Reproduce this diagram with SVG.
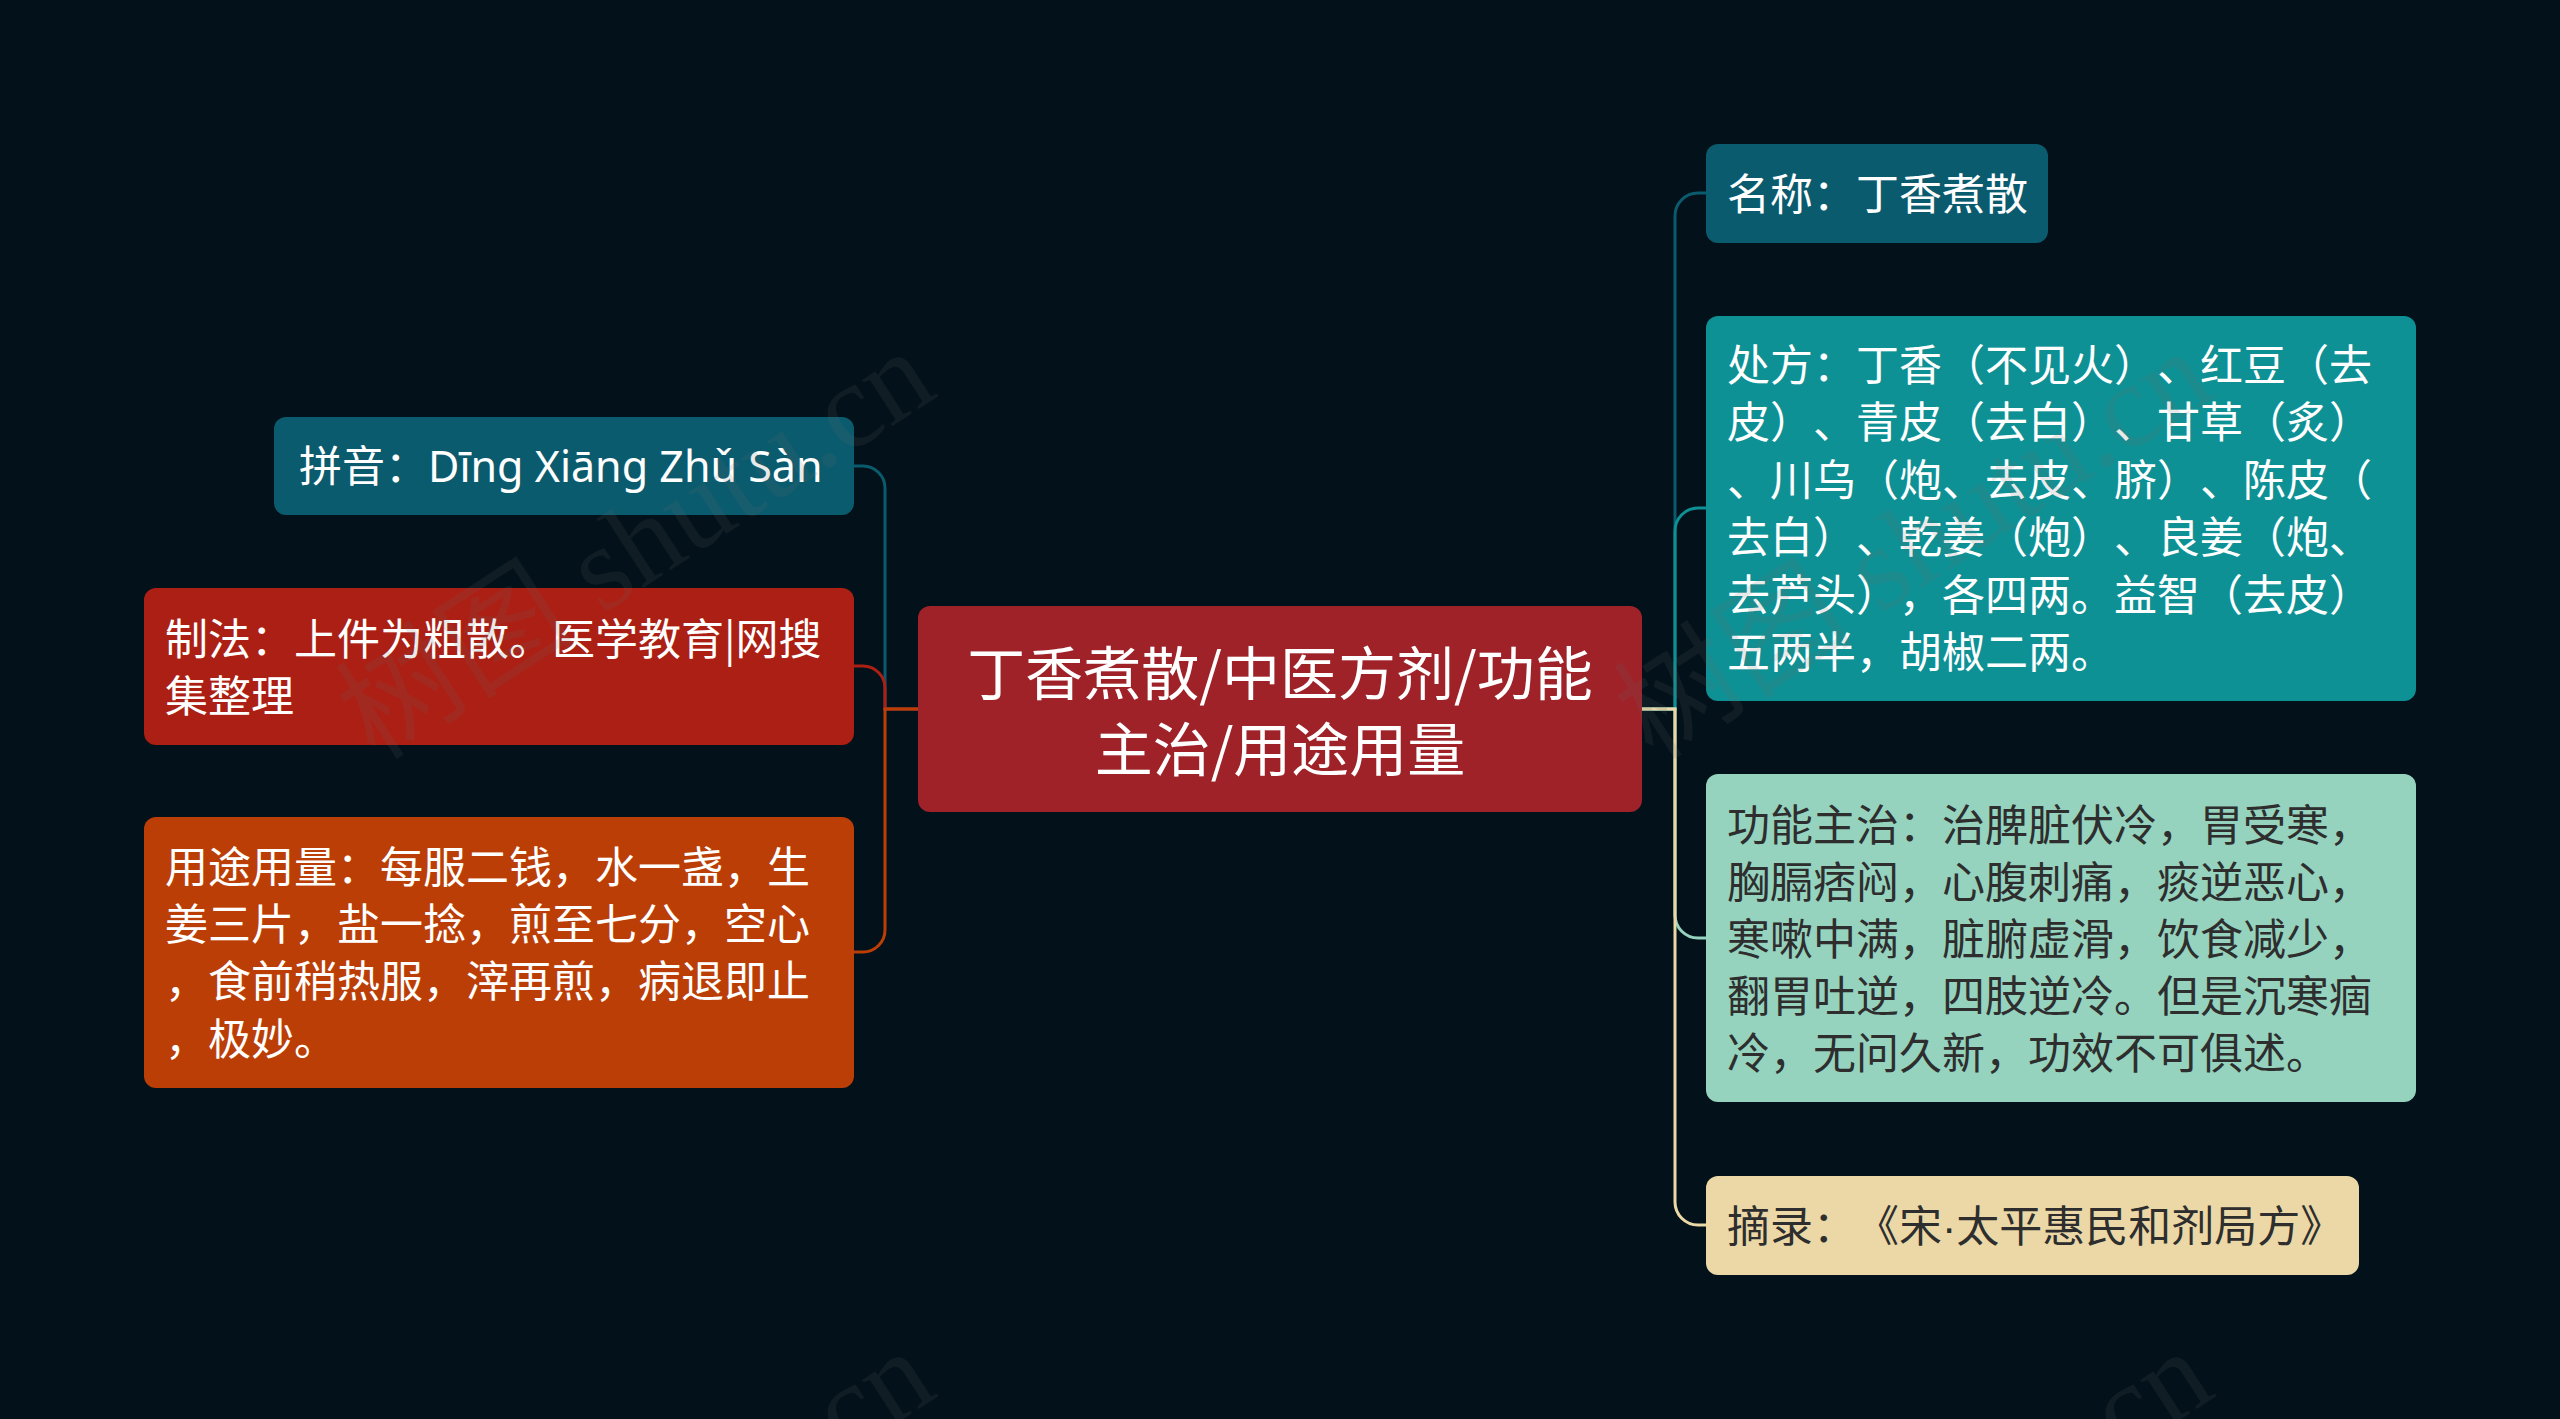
<svg xmlns="http://www.w3.org/2000/svg" width="2560" height="1419" viewBox="0 0 2560 1419">
<style>
text{text-spacing-trim:space-all;font-kerning:none;}
.t{font-family:"Noto Sans CJK SC","Microsoft YaHei",sans-serif;font-size:43px;}
.w{fill:#ffffff;}
.d{fill:#2e2e2e;}
.c{font-family:"Noto Sans CJK SC","Microsoft YaHei",sans-serif;font-size:58px;fill:#ffffff;}
.lat{font-family:"Noto Sans","Open Sans",sans-serif;}
.dot{font-family:"Liberation Sans",sans-serif;}
.ln{fill:none;stroke-width:3;}
.wm{font-family:"Liberation Serif","Noto Sans CJK SC",serif;font-size:120px;fill:#6a6a6a;opacity:0.14;}
</style>
<rect x="0" y="0" width="2560" height="1419" fill="#02111a"/>
<g id="connectors">
<path class="ln" stroke="#0b5b6e" d="M918,709 H885 V488 A22,22 0 0 0 863,466 H854"/>
<path class="ln" stroke="#ac1f14" d="M918,709 H885 V688 A22,22 0 0 0 863,666 H854"/>
<path class="ln" stroke="#bb3e06" d="M918,709 H885 V930 A22,22 0 0 1 863,952 H854"/>
<path class="ln" stroke="#0b5b6e" d="M1641,709 H1675 V216 A23,23 0 0 1 1698,193 H1706"/>
<path class="ln" stroke="#0e9195" d="M1641,709 H1675 V531 A23,23 0 0 1 1698,508 H1706"/>
<path class="ln" stroke="#95d3bf" d="M1641,709 H1675 V915 A23,23 0 0 0 1698,938 H1706"/>
<path class="ln" stroke="#ebd8a6" d="M1641,709 H1675 V1202 A23,23 0 0 0 1698,1225 H1706"/>
</g>
<g id="center">
<rect x="918" y="606" width="724" height="206" rx="12" fill="#9e2228"/>
<text class="c" x="1280" y="695" text-anchor="middle">丁香煮散/中医方剂/功能</text>
<text class="c" x="1280" y="771" text-anchor="middle">主治/用途用量</text>
</g>
<g id="pinyin">
<rect x="274" y="417" width="580" height="98" rx="12" fill="#0b5b6e"/>
<text class="t w" x="299" y="482">拼音：<tspan class="lat">Dīng Xiāng Zhǔ Sàn</tspan></text>
</g>
<g id="zhifa">
<rect x="144" y="588" width="710" height="157" rx="12" fill="#ac1f14"/>
<text class="t w" x="165" y="655">制法：上件为粗散。医学教育|网搜</text>
<text class="t w" x="165" y="712">集整理</text>
</g>
<g id="yongtu">
<rect x="144" y="817" width="710" height="271" rx="12" fill="#bb3e06"/>
<text class="t w" x="165" y="883">用途用量：每服二钱，水一盏，生</text>
<text class="t w" x="165" y="940">姜三片，盐一捻，煎至七分，空心</text>
<text class="t w" x="165" y="997">，食前稍热服，滓再煎，病退即止</text>
<text class="t w" x="165" y="1055">，极妙。</text>
</g>
<g id="mingcheng">
<rect x="1706" y="144" width="342" height="99" rx="12" fill="#0b5b6e"/>
<text class="t w" x="1727" y="210">名称：丁香煮散</text>
</g>
<g id="chufang">
<rect x="1706" y="316" width="710" height="385" rx="12" fill="#0e9195"/>
<text class="t w" x="1727" y="381">处方：丁香（不见火）、红豆（去</text>
<text class="t w" x="1727" y="438">皮）、青皮（去白）、甘草（炙）</text>
<text class="t w" x="1727" y="496">、川乌（炮、去皮、脐）、陈皮（</text>
<text class="t w" x="1727" y="553">去白）、乾姜（炮）、良姜（炮、</text>
<text class="t w" x="1727" y="611">去芦头），各四两。益智（去皮）</text>
<text class="t w" x="1727" y="668">五两半，胡椒二两。</text>
</g>
<g id="gongneng">
<rect x="1706" y="774" width="710" height="328" rx="12" fill="#95d3bf"/>
<text class="t d" x="1727" y="841">功能主治：治脾脏伏冷，胃受寒，</text>
<text class="t d" x="1727" y="898">胸膈痞闷，心腹刺痛，痰逆恶心，</text>
<text class="t d" x="1727" y="955">寒嗽中满，脏腑虚滑，饮食减少，</text>
<text class="t d" x="1727" y="1012">翻胃吐逆，四肢逆冷。但是沉寒痼</text>
<text class="t d" x="1727" y="1069">冷，无问久新，功效不可俱述。</text>
</g>
<g id="zhailu">
<rect x="1706" y="1176" width="653" height="99" rx="12" fill="#ebd8a6"/>
<text class="t d" x="1727" y="1242">摘录：《宋<tspan class="dot">·</tspan>太平惠民和剂局方》</text>
</g>
<g id="watermark">
<text class="wm" text-anchor="end" transform="translate(940,395) rotate(-33)">树图 shutu.cn</text>
<text class="wm" text-anchor="end" transform="translate(2218,395) rotate(-33)">树图 shutu.cn</text>
<text class="wm" text-anchor="end" transform="translate(940,1395) rotate(-33)">树图 shutu.cn</text>
<text class="wm" text-anchor="end" transform="translate(2218,1395) rotate(-33)">树图 shutu.cn</text>
</g>
</svg>
